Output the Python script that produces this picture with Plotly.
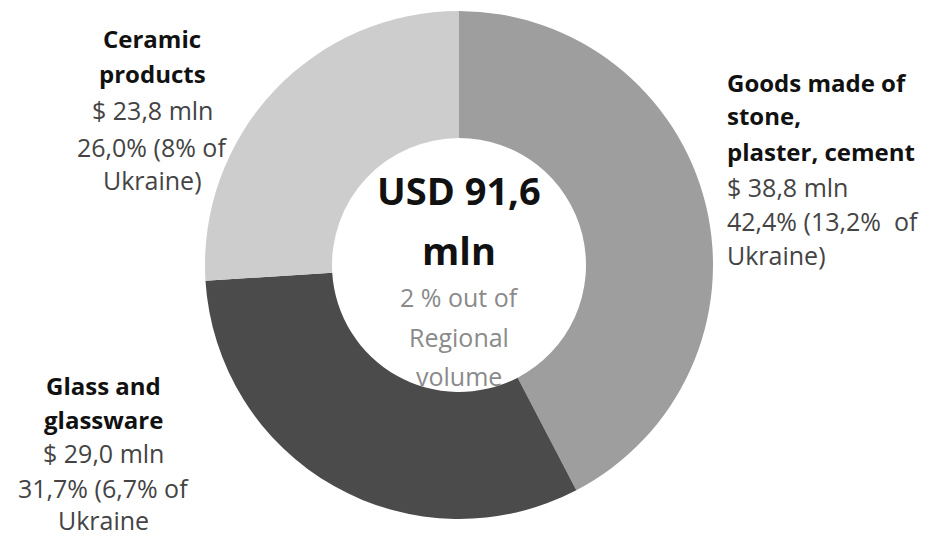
import plotly.graph_objects as go

# ---- data ----
categories = ["Goods made of stone, plaster, cement", "Glass and glassware", "Ceramic products"]
title_lines = [["Goods made of", "stone,", "plaster, cement"], ["Glass and", "glassware"], ["Ceramic", "products"]]
values_mln = [38.8, 29.0, 23.8]
share_text = ["42,4% (13,2%  of", "31,7% (6,7% of", "26,0% (8% of"]
ukraine_text = ["Ukraine)", "Ukraine", "Ukraine)"]
total_lines = ["USD 91,6", "mln"]
regional_lines = ["2 % out of", "Regional", "volume"]

colors = ["#9e9e9e", "#4b4b4b", "#cdcdcd"]

# page is rendered with an 8px body margin
OFF = 8
W, H = 938, 542
cx, cy, r = 459, 265, 254  # page pixels

def px(x):
    return (x - OFF) / W

def py(y):
    return 1 - (y - OFF) / H

fig = go.Figure()
fig.add_trace(go.Pie(
    labels=categories,
    values=values_mln,
    hole=0.50,
    sort=False,
    direction="clockwise",
    rotation=0,
    marker=dict(colors=colors, line=dict(width=0)),
    textinfo="none",
    hoverinfo="label+value",
    showlegend=False,
    domain=dict(x=[px(cx - r), px(cx + r)], y=[py(cy + r), py(cy - r)]),
))

FONT = "Open Sans"

def fmt_val(v):
    return ("$ %.1f mln" % v).replace(".", ",")

# per-label layout: anchor x, alignment, y of each line (page pixels)
label_layout = [
    dict(x=725, xanchor="left", ys=[82, 116, 151, 187, 221, 255]),
    dict(x=103, xanchor="center", ys=[385, 419, 453, 488, 520]),
    dict(x=152, xanchor="center", ys=[38, 73, 110, 147, 180]),
]

for i, lay in enumerate(label_layout):
    lines = [("<b>%s</b>" % t, 24, "#111111") for t in title_lines[i]]
    lines += [(fmt_val(values_mln[i]), 25, "#444444"),
              (share_text[i], 25, "#444444"),
              (ukraine_text[i], 25, "#444444")]
    for (txt, size, col), y in zip(lines, lay["ys"]):
        fig.add_annotation(
            x=px(lay["x"]), y=py(y), xref="paper", yref="paper",
            xanchor=lay["xanchor"], yanchor="middle",
            text=txt, showarrow=False,
            font=dict(family=FONT, size=size, color=col),
        )

for txt, y in zip(total_lines, [190, 250]):
    fig.add_annotation(
        x=px(cx), y=py(y), xref="paper", yref="paper",
        xanchor="center", yanchor="middle",
        text="<b>%s</b>" % txt, showarrow=False,
        font=dict(family=FONT, size=38, color="#111111"),
    )
for txt, y in zip(regional_lines, [297, 337, 376]):
    fig.add_annotation(
        x=px(cx), y=py(y), xref="paper", yref="paper",
        xanchor="center", yanchor="middle",
        text=txt, showarrow=False,
        font=dict(family=FONT, size=25, color="#8a8a8a"),
    )

fig.update_layout(
    width=W, height=H,
    margin=dict(l=0, r=0, t=0, b=0),
    paper_bgcolor="white", plot_bgcolor="white",
    font=dict(family=FONT),
)

fig.write_html("out.html")
